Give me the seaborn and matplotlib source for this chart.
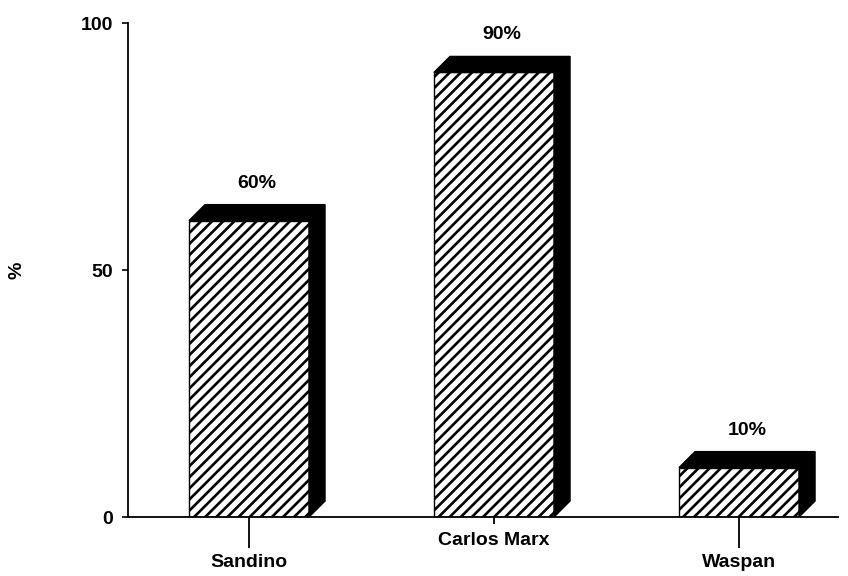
import matplotlib
matplotlib.use("Agg")
import matplotlib.pyplot as plt
import matplotlib.transforms as mtransforms
import seaborn as sns
import pandas as pd
from matplotlib.patches import Polygon

# Data
categories = ["Sandino", "Carlos Marx", "Waspan"]
values = [60, 90, 10]
value_labels = ["60%", "90%", "10%"]
y_ticks = [0, 50, 100]

sns.set_theme(style="white")
plt.rcParams["font.family"] = ["Liberation Sans", "DejaVu Sans"]
plt.rcParams["font.weight"] = "bold"
plt.rcParams["text.color"] = "black"
plt.rcParams["axes.labelcolor"] = "black"
plt.rcParams["xtick.color"] = "black"
plt.rcParams["ytick.color"] = "black"
plt.rcParams["hatch.linewidth"] = 1.9
plt.rcParams["hatch.color"] = "black"

df = pd.DataFrame({"site": categories, "pct": values})

fig = plt.figure(figsize=(8.48, 5.76), dpi=100)
ax = fig.add_axes([0.1509, 0.1024, 0.8373, 0.8576])

sns.barplot(data=df, x="site", y="pct", ax=ax, width=0.49,
            color="white", edgecolor="black", linewidth=1.0,
            hatch="///", saturation=1)

ax.set_xlim(-0.494, 2.404)
ax.set_ylim(0, 100)
ax.set_yticks(y_ticks)
ax.set_yticklabels([str(t) for t in y_ticks], fontsize=14,
                   fontweight="bold", color="black")

for side in ["top", "right"]:
    ax.spines[side].set_visible(False)
for side in ["left", "bottom"]:
    ax.spines[side].set_color("black")
    ax.spines[side].set_linewidth(1.3)

ax.tick_params(axis="y", direction="out", length=4.5, width=1.2,
               color="black", labelcolor="black", pad=6, left=True)

# Depth offset of the 3D extrusion, in pixels converted to data units
fig.canvas.draw()
p0 = ax.transData.transform((0, 0))
p1 = ax.transData.transform((1, 1))
depth_px = 16
dx = depth_px / (p1[0] - p0[0])
dy = depth_px / (p1[1] - p0[1])

for bar, lab in zip(ax.patches, value_labels):
    x0 = bar.get_x()
    x1 = x0 + bar.get_width()
    h = bar.get_height()
    top = Polygon([(x0, h), (x0 + dx, h + dy), (x1 + dx, h + dy), (x1, h)],
                  closed=True, facecolor="black", edgecolor="black", lw=1)
    side = Polygon([(x1, h), (x1 + dx, h + dy), (x1 + dx, dy), (x1, 0)],
                   closed=True, facecolor="black", edgecolor="black", lw=1)
    ax.add_patch(top)
    ax.add_patch(side)
    ax.annotate(lab, xy=(x0 + (x1 - x0) / 2 + dx / 2, h),
                xytext=(0, 27), textcoords="offset points",
                ha="center", va="center", fontsize=14, fontweight="bold",
                color="black")

ax.set_xlabel("")
ax.set_ylabel("%", fontsize=14, fontweight="bold", color="black")
ax.yaxis.set_label_coords(-0.145, 0.5)

# Category ticks drawn by hand: staggered lengths so labels alternate height
ax.set_xticks(range(len(categories)))
ax.set_xticklabels([])
ax.tick_params(axis="x", length=0)
blend = mtransforms.blended_transform_factory(ax.transData, ax.transAxes)
px_to_axes = 1.0 / ax.bbox.height
tick_px = [31, 7, 31]
label_px = [45, 23, 45]
for i, (name, tl, lp) in enumerate(zip(categories, tick_px, label_px)):
    ax.plot([i, i], [0, -tl * px_to_axes], transform=blend, color="black",
            lw=1.3, clip_on=False, solid_capstyle="butt")
    ax.text(i, -lp * px_to_axes, name, transform=blend, ha="center",
            va="center", fontsize=14, fontweight="bold", color="black")

fig.savefig("out.png", dpi=100, facecolor="white")
